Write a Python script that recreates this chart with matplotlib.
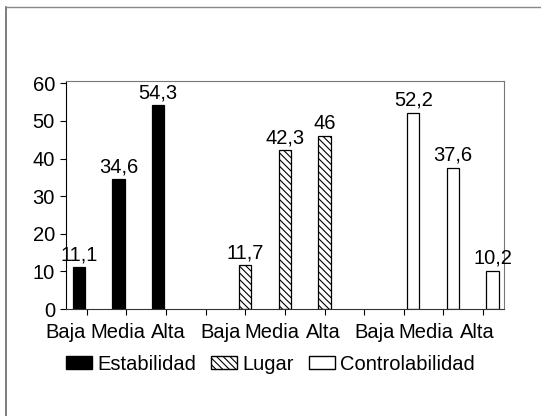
import numpy as np
import matplotlib
matplotlib.use("Agg")
import matplotlib.pyplot as plt
from matplotlib.patches import Patch
from matplotlib.lines import Line2D

plt.rcParams['font.family'] = ['Liberation Sans', 'DejaVu Sans']
plt.rcParams['hatch.linewidth'] = 0.8

niveles = ["Baja", "Media", "Alta"]
series = ["Estabilidad", "Lugar", "Controlabilidad"]
estabilidad = [11.1, 34.6, 54.3]
lugar = [11.7, 42.3, 46]
controlabilidad = [52.2, 37.6, 10.2]

valores = [estabilidad, lugar, controlabilidad]
colores = ["black", "white", "white"]
tramas = [None, "\\\\\\\\\\", None]
grupo_inicio = [0, 4, 8]
desplaz = [-0.2, 0.0, 0.24]
ancho = 0.31
fs = 14.5

fig = plt.figure(figsize=(5.41, 4.16), dpi=100)
ax = fig.add_axes([0.122, 0.257, 0.8096, 0.549])

for i, vals in enumerate(valores):
    x = np.arange(len(vals)) + grupo_inicio[i] + desplaz[i]
    bars = ax.bar(x, vals, width=ancho, color=colores[i], edgecolor="black",
                  hatch=tramas[i], linewidth=0.9)
    for b, v in zip(bars, vals):
        txt = f"{v:g}".replace(".", ",")
        ax.annotate(txt, (b.get_x() + b.get_width() / 2, v), xytext=(0, 2),
                    textcoords="offset points", ha="center", va="bottom",
                    fontsize=fs)

ax.set_xlim(-0.43, 10.53)
ax.set_ylim(0, 60.7)
ax.set_yticks(range(0, 61, 10))
ax.tick_params(axis="y", labelsize=fs, length=4, pad=4)

ax.set_xticks(range(11))
ax.set_xticklabels([])
ax.tick_params(axis="x", which="major", length=4)
pos_etiq = np.linspace(-0.525, 9.85, 9)
ax.set_xticks(pos_etiq, minor=True)
ax.set_xticklabels(niveles * 3, minor=True, fontsize=fs)
ax.tick_params(axis="x", which="minor", length=0, pad=10)

for s in ["top", "right"]:
    ax.spines[s].set_color("#777777")
ax.spines["left"].set_color("black")
ax.spines["bottom"].set_color("#333333")

handles = [Patch(facecolor="black", edgecolor="black"),
           Patch(facecolor="white", edgecolor="black", hatch="\\\\\\\\\\"),
           Patch(facecolor="white", edgecolor="black")]
fig.legend(handles, series, loc="center", bbox_to_anchor=(0.5, 0.125), ncol=3,
           frameon=False, fontsize=fs, handlelength=1.3, handleheight=0.6,
           handletextpad=0.25, columnspacing=0.75)

# marco exterior del escaneo
fig.add_artist(Line2D([6 / 541, 6 / 541], [0, 1 - 7 / 416], color="#666666", lw=1.2))
fig.add_artist(Line2D([6 / 541, 1], [1 - 7 / 416, 1 - 7 / 416], color="#888888", lw=1.0))

fig.savefig("out.png", dpi=100)
